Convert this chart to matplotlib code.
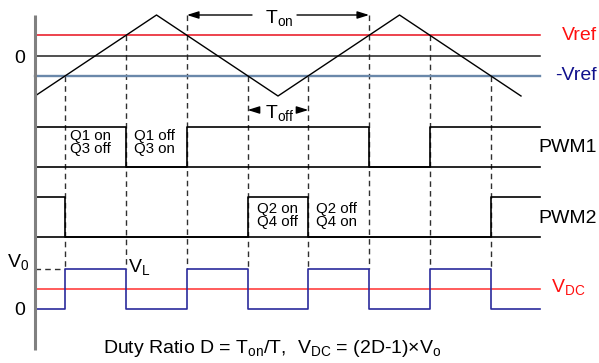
import numpy as np
import matplotlib
matplotlib.use('Agg')
import matplotlib.pyplot as plt

plt.rcParams['font.family'] = ['Liberation Sans', 'DejaVu Sans']
plt.rcParams['mathtext.fontset'] = 'custom'
plt.rcParams['mathtext.rm'] = 'Liberation Sans'
plt.rcParams['mathtext.it'] = 'Liberation Sans'
plt.rcParams['mathtext.default'] = 'regular'

# ---- data ----
carrier_t = [0, 1, 2, 3, 4]          # triangle carrier vertices (time units, T = 2)
carrier_v = [-1, 1, -1, 1, -1]       # carrier amplitude
vref = 0.5                           # reference level (+Vref / -Vref)
t_end = 4.16                         # end of the horizontal traces
duty = 0.75
v0 = 1.0
vdc = (2 * duty - 1) * v0            # 0.5

# ---- layout (vertical placement of each trace, in figure pixels) ----
W, H = 599, 363
X0, XS = 35, 121.5                   # time origin pixel, pixels per time unit
def car_y(v): return 55.5 - 40.5 * np.asarray(v, float)
def p1_y(v): return 167 - 40 * np.asarray(v, float)
def p2_y(v): return 237 - 40 * np.asarray(v, float)
def vl_y(v): return 309 - 40 * np.asarray(v, float)
def px(x): return (x - X0) / XS

def crossings(level):
    out = []
    for i in range(len(carrier_t) - 1):
        ta, tb = carrier_t[i], carrier_t[i + 1]
        va, vb = carrier_v[i], carrier_v[i + 1]
        if (va - level) * (vb - level) < 0:
            out.append(ta + (level - va) / (vb - va) * (tb - ta))
    return out

up = crossings(vref)
dn = crossings(-vref)

def step(edges, start, tend):
    ts, vs, v = [0], [start], start
    for e in edges:
        ts += [e, e]; vs += [v, 1 - v]; v = 1 - v
    ts.append(tend); vs.append(v)
    return np.array(ts), np.array(vs)

pwm1_t, pwm1_v = step(up, 1, t_end)
pwm2_t, pwm2_v = step(dn, 1, t_end)

all_edges = sorted(up + dn)
def pwm_val(edges, start, t):
    return (start + sum(1 for e in edges if e <= t)) % 2
vl_t, vl_v = [0], []
v_prev = pwm_val(up, 1, 0) - pwm_val(dn, 1, 0)
vl_v.append(v_prev)
for e in all_edges:
    v_new = pwm_val(up, 1, e + 1e-9) - pwm_val(dn, 1, e + 1e-9)
    vl_t += [e, e]; vl_v += [v_prev, v_new]; v_prev = v_new
vl_t.append(t_end); vl_v.append(v_prev)

fig = plt.figure(figsize=(W / 100, H / 100), dpi=100)
ax = fig.add_axes([0, 0, 1, 1])
ax.set_xlim(px(0), px(W))
ax.set_ylim(H, 0)
ax.axis('off')

dash = dict(color='#303030', lw=1.0, ls=(0, (4, 3)))

# dashed verticals
for t in up + dn:
    lvl = vref if t in up else -vref
    top = car_y(lvl)
    if t in (up[1], up[2]):
        top = car_y(1) - 0.5
    ax.plot([t, t], [top, vl_y(v0)], **dash)
ax.plot([0, dn[0]], [vl_y(v0), vl_y(v0)], **dash)

# carrier section
ax.plot([0, t_end], [car_y(vref)] * 2, color='#e8101c', lw=1.1)
ax.plot([0, t_end], [car_y(0)] * 2, color='#202020', lw=1.1)
ax.plot([0, t_end], [car_y(-vref)] * 2, color='#6a88aa', lw=1.7)
ax.plot(carrier_t, car_y(carrier_v), color='black', lw=1.0)

# PWM traces
ax.plot([0, t_end], [p1_y(0)] * 2, color='black', lw=1.2)
ax.plot(pwm1_t, p1_y(pwm1_v), color='black', lw=1.2)
ax.plot([0, t_end], [p2_y(0)] * 2, color='black', lw=1.2)
ax.plot(pwm2_t, p2_y(pwm2_v), color='black', lw=1.2)

# VL and VDC
ax.plot([0, t_end], [vl_y(vdc)] * 2, color='#ff4040', lw=1.2)
ax.plot(vl_t, vl_y(vl_v), color='#2b2b9c', lw=1.2)

# vertical axis
ax.plot([0, 0], [15, 350], color='#808080', lw=2.2, solid_capstyle='butt')

fs = 14
# Ton arrows
ya = car_y(1)
ap = dict(arrowstyle='-|>,head_length=0.7,head_width=0.22', color='black', lw=1.0,
          shrinkA=0, shrinkB=0)
ax.annotate('', xy=(up[1], ya), xytext=(px(252), ya), arrowprops=ap)
ax.annotate('', xy=(up[2], ya), xytext=(px(297), ya), arrowprops=ap)
ax.text(px(279), 23, 'T$_{on}$', fontsize=fs, ha='center', va='baseline')

# Toff arrows
yb = 110
ax.annotate('', xy=(dn[1], yb), xytext=(px(256), yb), arrowprops=ap)
ax.annotate('', xy=(dn[2], yb), xytext=(px(299), yb), arrowprops=ap)
ax.text(px(280), 118, 'T$_{off}$', fontsize=fs, ha='center', va='baseline')

# switch state labels
qfs = 10.8
q_labels = [
    (70, (140, 153), ('Q1 on', 'Q3 off')),
    (134, (140, 153), ('Q1 off', 'Q3 on')),
    (257, (213, 226), ('Q2 on', 'Q4 off')),
    (316, (213, 226), ('Q2 off', 'Q4 on')),
]
for xl, ys, (l1, l2) in q_labels:
    ax.text(px(xl), ys[0], l1, fontsize=qfs, ha='left', va='baseline')
    ax.text(px(xl), ys[1], l2, fontsize=qfs, ha='left', va='baseline')

# left labels
ax.text(px(20), 63, '0', fontsize=fs, ha='center', va='baseline')
ax.text(px(7), 267, 'V$_0$', fontsize=fs, ha='left', va='baseline')
ax.text(px(20), 315, '0', fontsize=fs, ha='center', va='baseline')
ax.text(px(128), 272, 'V$_L$', fontsize=fs, ha='left', va='baseline')

# right labels
ax.text(px(597), 40, 'Vref', fontsize=fs, ha='right', va='baseline', color='#ff1010')
ax.text(px(597), 80, '-Vref', fontsize=fs, ha='right', va='baseline', color='#10108c')
ax.text(px(597), 152, 'PWM1', fontsize=fs, ha='right', va='baseline')
ax.text(px(597), 223, 'PWM2', fontsize=fs, ha='right', va='baseline')
ax.text(px(551), 292, 'V$_{DC}$', fontsize=fs, ha='left', va='baseline', color='#ff1010')

# bottom formula
ax.text(px(103), 353, 'Duty Ratio D = T$_{on}$/T,  V$_{DC}$ = (2D-1)×V$_o$', fontsize=fs,
        ha='left', va='baseline')

fig.savefig('out.png', dpi=100)
